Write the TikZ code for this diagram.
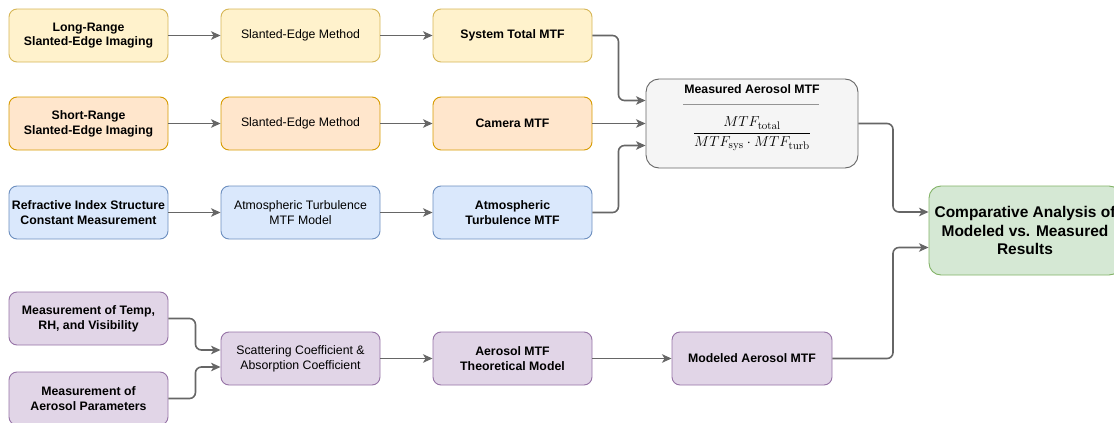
\documentclass[tikz,border=0pt]{standalone}
\usepackage[no-math]{fontspec}
\setmainfont{Liberation Sans}
\usetikzlibrary{arrows.meta,calc}
\definecolor{yfill}{HTML}{FFF2CC}\definecolor{ydraw}{HTML}{D6B656}
\definecolor{ofill}{HTML}{FFE6CC}\definecolor{odraw}{HTML}{D79B00}
\definecolor{bfill}{HTML}{DAE8FC}\definecolor{bdraw}{HTML}{6C8EBF}
\definecolor{pfill}{HTML}{E1D5E7}\definecolor{pdraw}{HTML}{9673A6}
\definecolor{gfill}{HTML}{F5F5F5}\definecolor{gdraw}{HTML}{666666}
\definecolor{nfill}{HTML}{D5E8D4}\definecolor{ndraw}{HTML}{82B366}
\definecolor{arrc}{HTML}{666666}
\tikzset{
  box/.style={draw, line width=0.9pt, rounded corners=8pt, minimum width=159pt, minimum height=53pt,
    align=center, inner sep=2pt, font=\fontsize{12.3}{14.8}\selectfont},
  bbox/.style={box, font=\fontsize{12.3}{14.8}\selectfont\bfseries},
  yel/.style={fill=yfill, draw=ydraw},
  ora/.style={fill=ofill, draw=odraw},
  blu/.style={fill=bfill, draw=bdraw},
  pur/.style={fill=pfill, draw=pdraw},
  arr/.style={draw=arrc, line width=1.6pt, rounded corners=6pt,
    -{Stealth[length=9.5pt,width=8.5pt,inset=2.5pt,fill=arrc]}},
}
\begin{document}
\begin{tikzpicture}[x=1pt,y=-1pt]
\useasboundingbox (0,0) rectangle (1114,423);
% row 1
\node[bbox,yel] (a1) at (88.5,35.5) {Long-Range\\Slanted-Edge Imaging};
\node[box,yel]  (a2) at (300.5,35.5) {Slanted-Edge Method};
\node[bbox,yel] (a3) at (512.5,35.5) {System Total MTF};
% row 2
\node[bbox,ora] (b1) at (88.5,123.5) {Short-Range\\Slanted-Edge Imaging};
\node[box,ora]  (b2) at (300.5,123.5) {Slanted-Edge Method};
\node[bbox,ora] (b3) at (512.5,123.5) {Camera MTF};
% row 3
\node[bbox,blu] (c1) at (88.5,212.5) {Refractive Index Structure\\Constant Measurement};
\node[box,blu]  (c2) at (300.5,212.5) {Atmospheric Turbulence\\MTF Model};
\node[bbox,blu] (c3) at (512.5,212.5) {Atmospheric\\Turbulence MTF};
% row 4
\node[bbox,pur] (d1) at (88.5,318.5) {Measurement of Temp,\\RH, and Visibility};
\node[bbox,pur] (d0) at (88.5,398.5) {Measurement of\\Aerosol Parameters};
\node[box,pur]  (d2) at (300.5,358.5) {Scattering Coefficient \&\\Absorption Coefficient};
\node[bbox,pur] (d3) at (512.5,358.5) {Aerosol MTF\\Theoretical Model};
\node[bbox,pur, minimum width=160pt] (d4) at (752,358.5) {Modeled Aerosol MTF};
% measured
\node[draw=gdraw, fill=gfill, line width=0.9pt, rounded corners=13pt, minimum width=212pt, minimum height=89pt] (m) at (752,123.5) {};
\node[font=\fontsize{12.3}{14.8}\selectfont\bfseries] (mt) at (752,89.5) {Measured Aerosol MTF};
\draw[draw=gdraw!70, line width=0.8pt] (683,104) coordinate (l1) -- (819,104) coordinate (l2);
\node[font=\fontsize{15}{18}\selectfont] (mf) at (752,134) {$\displaystyle\frac{MTF_{\mathrm{total}}}{MTF_{\mathrm{sys}}\cdot MTF_{\mathrm{turb}}}$};
% comparative
\node[draw=ndraw, fill=nfill, line width=0.9pt, rounded corners=12pt, minimum width=192pt, minimum height=89pt,
  align=center, font=\fontsize{15.5}{18.4}\selectfont\bfseries] (f) at (1025,230.5) {Comparative Analysis of\\Modeled vs. Measured\\Results};
% arrows
\draw[arr] (a1) -- (a2);
\draw[arr] (a2) -- (a3);
\draw[arr] (b1) -- (b2);
\draw[arr] (b2) -- (b3);
\draw[arr] (c1) -- (c2);
\draw[arr] (c2) -- (c3);
\draw[arr] (a3.east) -- ++(26,0) |- ([yshift=23pt]m.west);
\draw[arr] (b3.east) -- (m.west);
\draw[arr] (c3.east) -- ++(26,0) |- ([yshift=-22pt]m.west);
\draw[arr] (m.east) -- (893,123.5) |- ([yshift=18.5pt]f.west);
\draw[arr] (d4.east) -- (893,358.5) |- ([yshift=-17pt]f.west);
\draw[arr] (d1.east) -- ++(27,0) |- ([yshift=8.5pt]d2.west);
\draw[arr] (d0.east) -- ++(27,0) |- ([yshift=-8.5pt]d2.west);
\draw[arr] (d2) -- (d3);
\draw[arr] (d3) -- (d4);
\end{tikzpicture}
\end{document}
